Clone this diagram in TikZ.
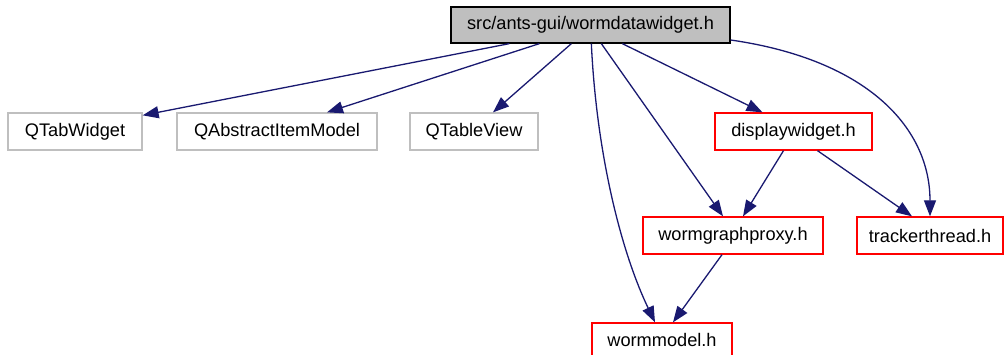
\documentclass[tikz,border=0pt]{standalone}
\usepackage{fontspec}
\setmainfont{Liberation Sans}
\usetikzlibrary{arrows.meta}
\definecolor{edgeblue}{HTML}{191970}
\definecolor{boxgray}{HTML}{BFBFBF}
\tikzset{
  box/.style={draw, rectangle, inner sep=0pt, anchor=center, line width=1.3pt,
    font=\fontsize{18.2}{20}\selectfont, text=black},
  topbox/.style={box, draw=black, fill=boxgray},
  graybox/.style={box, draw=boxgray},
  redbox/.style={box, draw=red},
  edge/.style={draw=edgeblue, line width=1.3pt,
    -{Triangle[length=16pt,width=12pt]}, fill=none},
}
\begin{document}
\begin{tikzpicture}[x=1pt,y=-1pt]
\useasboundingbox (0,0) rectangle (1005,355);
\node[topbox, minimum width=279pt, minimum height=36pt] (top) at (590.5,25) {src/ants-gui/wormdatawidget.h};
\node[graybox, minimum width=134pt, minimum height=37pt] (qtab) at (75,131.5) {QTabWidget};
\node[graybox, minimum width=200pt, minimum height=37pt] (qaim) at (277,131.5) {QAbstractItemModel};
\node[graybox, minimum width=128pt, minimum height=37pt] (qtv) at (474,131.5) {QTableView};
\node[redbox, minimum width=157pt, minimum height=37pt] (disp) at (793.5,131.5) {displaywidget.h};
\node[redbox, minimum width=180pt, minimum height=37pt] (wgp) at (733,235.5) {wormgraphproxy.h};
\node[redbox, minimum width=146pt, minimum height=37pt] (tt) at (930,235.5) {trackerthread.h};
\node[redbox, minimum width=140pt, minimum height=34pt] (wm) at (662,340) {wormmodel.h};

\draw[edge] ([xshift=59pt]top.south west) -- ([yshift=-3pt]qtab.north east);
\draw[edge] ([xshift=89pt]top.south west) -- ([xshift=50pt]qaim.north);
\draw[edge] ([xshift=121pt]top.south west) -- ([xshift=19pt]qtv.north);
\draw[edge] ([xshift=172pt]top.south west) -- ([xshift=-31pt]disp.north);
\draw[edge] ([xshift=151pt]top.south west) -- ([xshift=-10pt]wgp.north);
\draw[edge] ([xshift=141pt]top.south west) .. controls +(5,107) and +(-35,-73) .. ([xshift=-7pt]wm.north);
\draw[edge] ([yshift=-15pt]top.east) .. controls +(139,20) and +(0,-87) .. (tt.north);
\draw[edge] ([xshift=-10pt]disp.south) -- ([xshift=10pt]wgp.north);
\draw[edge] ([xshift=24pt]disp.south) -- ([xshift=-18pt]tt.north);
\draw[edge] ([xshift=-11pt]wgp.south) -- ([xshift=11pt]wm.north);
\end{tikzpicture}
\end{document}
